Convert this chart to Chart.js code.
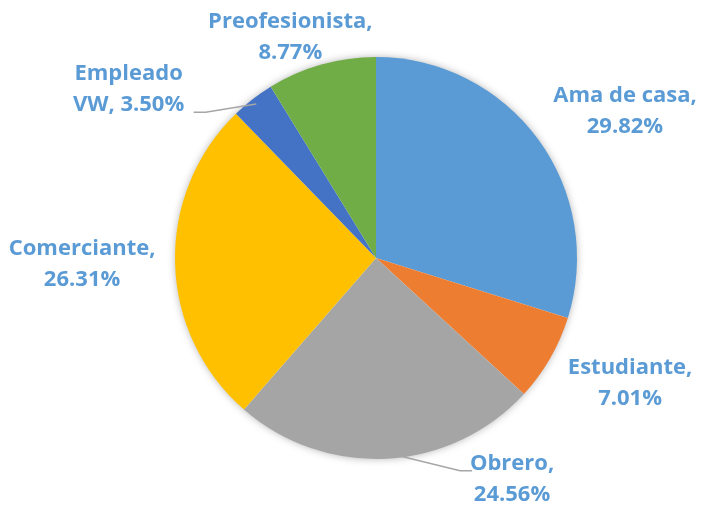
<!DOCTYPE html>
<html>
<head>
<meta charset="utf-8">
<script src="https://cdn.jsdelivr.net/npm/chart.js@4/dist/chart.umd.min.js"></script>
<style>
  html, body { margin: 0; padding: 0; background: #fff; }
  #wrap { width: 702px; height: 506px; position: relative; }
</style>
</head>
<body>
<div id="wrap"><canvas id="c"></canvas></div>
<script>
// --- data ---
const categories = ['Ama de casa', 'Estudiante', 'Obrero', 'Comerciante', 'Empleado VW', 'Preofesionista'];
const percents = [29.82, 7.01, 24.56, 26.31, 3.50, 8.77];
const sliceColors = ['#5B9BD5', '#ED7D31', '#A5A5A5', '#FFC000', '#4472C4', '#70AD47'];

// label lines (how each label wraps)
const labelLines = [
    ['Ama de casa,', '29.82%'],
    ['Estudiante,', '7.01%'],
    ['Obrero,', '24.56%'],
    ['Comerciante,', '26.31%'],
    ['Empleado', 'VW, 3.50%'],
    ['Preofesionista,', '8.77%']
];

// label placement: offset of label centre from the slice's outer mid point
const labelOffsets = [[87, -28], [80, 25], [125, 21], [-93, 1], [-124, -10], [-31, -27]];
// leader lines: [elbow, end] relative to label centre (null = none)
const leaders = [null, null, [[-52, -9], [-40, -9]], null, [[77, 23], [65, 23]], null];

const LABEL_COLOR = '#5B9BD5';
const LINE_H = 31;

const pieShadow = {
    id: 'pieShadow',
    beforeDatasetsDraw(chart) {
        const arc = chart.getDatasetMeta(0).data[0];
        if (!arc) return;
        const ctx = chart.ctx;
        ctx.save();
        ctx.shadowColor = 'rgba(0,0,0,0.35)';
        ctx.shadowBlur = 8;
        ctx.fillStyle = '#fff';
        ctx.beginPath();
        ctx.arc(arc.x, arc.y, arc.outerRadius - 1, 0, Math.PI * 2);
        ctx.fill();
        ctx.restore();
    }
};

const outsideLabels = {
    id: 'outsideLabels',
    afterDatasetsDraw(chart) {
        const ctx = chart.ctx;
        const meta = chart.getDatasetMeta(0);
        meta.data.forEach((arc, i) => {
            const p = arc.getProps(['x', 'y', 'startAngle', 'endAngle', 'outerRadius'], true);
            const mid = (p.startAngle + p.endAngle) / 2;
            const ox = p.x + Math.cos(mid) * p.outerRadius;
            const oy = p.y + Math.sin(mid) * p.outerRadius;
            const lx = ox + labelOffsets[i][0];
            const ly = oy + labelOffsets[i][1];

            if (leaders[i]) {
                ctx.save();
                ctx.strokeStyle = '#A6A6A6';
                ctx.lineWidth = 1.5;
                ctx.beginPath();
                ctx.moveTo(ox - Math.cos(mid) * 6, oy - Math.sin(mid) * 6);
                ctx.lineTo(lx + leaders[i][0][0], ly + leaders[i][0][1]);
                ctx.lineTo(lx + leaders[i][1][0], ly + leaders[i][1][1]);
                ctx.stroke();
                ctx.restore();
            }

            ctx.save();
            ctx.fillStyle = LABEL_COLOR;
            ctx.font = 'bold 22px "Open Sans", Lato, sans-serif';
            ctx.textAlign = 'center';
            ctx.textBaseline = 'middle';
            const lines = labelLines[i];
            const top = ly - (lines.length - 1) * LINE_H / 2;
            lines.forEach((t, k) => ctx.fillText(t, lx, top + k * LINE_H));
            ctx.restore();
        });
    }
};

new Chart(document.getElementById('c'), {
    type: 'pie',
    data: {
        labels: categories,
        datasets: [{
            data: percents,
            backgroundColor: sliceColors,
            borderWidth: 0
        }]
    },
    options: {
        responsive: true,
        maintainAspectRatio: false,
        animation: false,
        layout: { padding: { top: 57, bottom: 47, left: 175, right: 125 } },
        plugins: {
            legend: { display: false },
            tooltip: { enabled: false }
        }
    },
    plugins: [pieShadow, outsideLabels]
});
</script>
</body>
</html>
